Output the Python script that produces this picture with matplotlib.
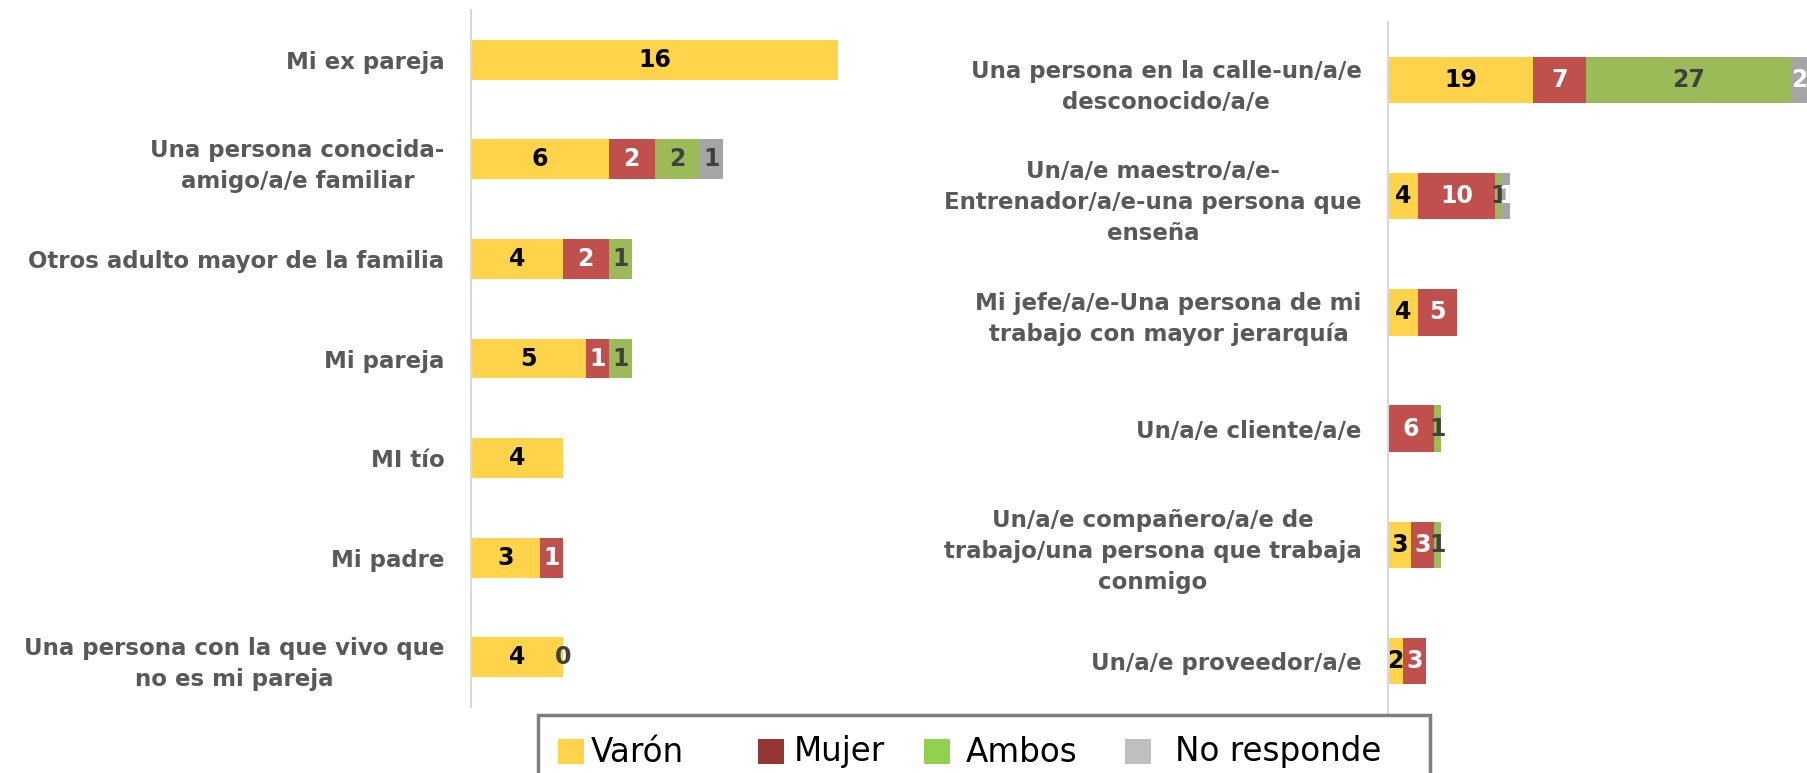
import numpy as np
import matplotlib
matplotlib.use("Agg")
import matplotlib.pyplot as plt
from matplotlib.patches import Rectangle

# ---- data -------------------------------------------------------------
series_names = ["Varón", "Mujer", "Ambos", "No responde"]

left_categories = [
    "Mi ex pareja",
    "Una persona conocida-\namigo/a/e familiar",
    "Otros adulto mayor de la familia",
    "Mi pareja",
    "MI tío",
    "Mi padre",
    "Una persona con la que vivo que\nno es mi pareja",
]
left_varon = [16, 6, 4, 5, 4, 3, 4]
left_mujer = [np.nan, 2, 2, 1, np.nan, 1, np.nan]
left_ambos = [np.nan, 2, 1, 1, np.nan, np.nan, 0]
left_no_responde = [np.nan, 1, np.nan, np.nan, np.nan, np.nan, np.nan]

right_categories = [
    "Una persona en la calle-un/a/e\ndesconocido/a/e",
    "Un/a/e maestro/a/e-\nEntrenador/a/e-una persona que\nenseña",
    "Mi jefe/a/e-Una persona de mi\ntrabajo con mayor jerarquía",
    "Un/a/e cliente/a/e",
    "Un/a/e compañero/a/e de\ntrabajo/una persona que trabaja\nconmigo",
    "Un/a/e proveedor/a/e",
]
right_varon = [19, 4, 4, np.nan, 3, 2]
right_mujer = [7, 10, 5, 6, 3, 3]
right_ambos = [27, 1, np.nan, 1, 1, np.nan]
right_no_responde = [2, 1, np.nan, np.nan, np.nan, np.nan]

# ---- styling ----------------------------------------------------------
bar_colors = ["#FFD44B", "#C0504D", "#9BBB59", "#A5A5A5"]
legend_colors = ["#FFD44B", "#963634", "#92D050", "#BFBFBF"]
label_font = ["DejaVu Sans"]
W, H = 1807, 773
fig = plt.figure(figsize=(W / 100, H / 100), dpi=100)


def px_axes(x0, y_top, x1, y_bot):
    return fig.add_axes([x0 / W, 1 - y_bot / H, (x1 - x0) / W, (y_bot - y_top) / H])


def draw_panel(ax, cats, values, xmax, value_colors):
    n = len(cats)
    y = np.arange(n)
    left = np.zeros(n)
    for vals, col, tcol in zip(values, bar_colors, value_colors):
        v = np.array(vals, dtype=float)
        w = np.nan_to_num(v)
        ax.barh(y, w, left=left, height=0.4, color=col, linewidth=0)
        for i in range(n):
            if not np.isnan(v[i]):
                ax.text(left[i] + w[i] / 2, y[i], f"{int(v[i])}", ha="center",
                        va="center", fontsize=17, fontweight="bold",
                        color=tcol, family=label_font)
        left = left + w
    ax.set_ylim(n - 0.5, -0.5)
    ax.set_xlim(0, xmax)
    ax.set_yticks(y)
    ax.set_yticklabels(cats, fontsize=16.5, fontweight="bold", color="#595959",
                       family=label_font, multialignment="center",
                       linespacing=1.45)
    ax.tick_params(axis="y", length=0, pad=19)
    ax.set_xticks([])
    for s in ["top", "right", "bottom"]:
        ax.spines[s].set_visible(False)
    ax.spines["left"].set_color("#D9D9D9")
    ax.spines["left"].set_linewidth(1.5)
    ax.patch.set_alpha(0)


ax_l = px_axes(471, 10, 901, 707)
draw_panel(ax_l, left_categories,
           [left_varon, left_mujer, left_ambos, left_no_responde],
           430 / 22.94, ["black", "white", "#404040", "#404040"])

ax_r = px_axes(1388, 22, 1818, 719)
draw_panel(ax_r, right_categories,
           [right_varon, right_mujer, right_ambos, right_no_responde],
           430 / 7.62, ["black", "white", "#404040", "white"])

# ---- legend box along the bottom ---------------------------------------
box = Rectangle((538 / W, 1 - 800 / H), (1430 - 538) / W, (800 - 715) / H,
                transform=fig.transFigure, facecolor="white",
                edgecolor="#7F7F7F", linewidth=2.5, zorder=5)
fig.patches.append(box)
patch_x = [558, 758, 924, 1125]
text_x = [591, 794, 966, 1175]
for name, col, px, tx in zip(series_names, legend_colors, patch_x, text_x):
    fig.patches.append(Rectangle((px / W, 1 - 764 / H), 26 / W, 25 / H,
                                 transform=fig.transFigure, facecolor=col,
                                 linewidth=0, zorder=6))
    fig.text(tx / W, 1 - 752 / H, name, ha="left", va="center", fontsize=23.5,
             family=["Liberation Sans Narrow", "DejaVu Sans"], color="black",
             zorder=7)

fig.savefig("out.png", dpi=100)
